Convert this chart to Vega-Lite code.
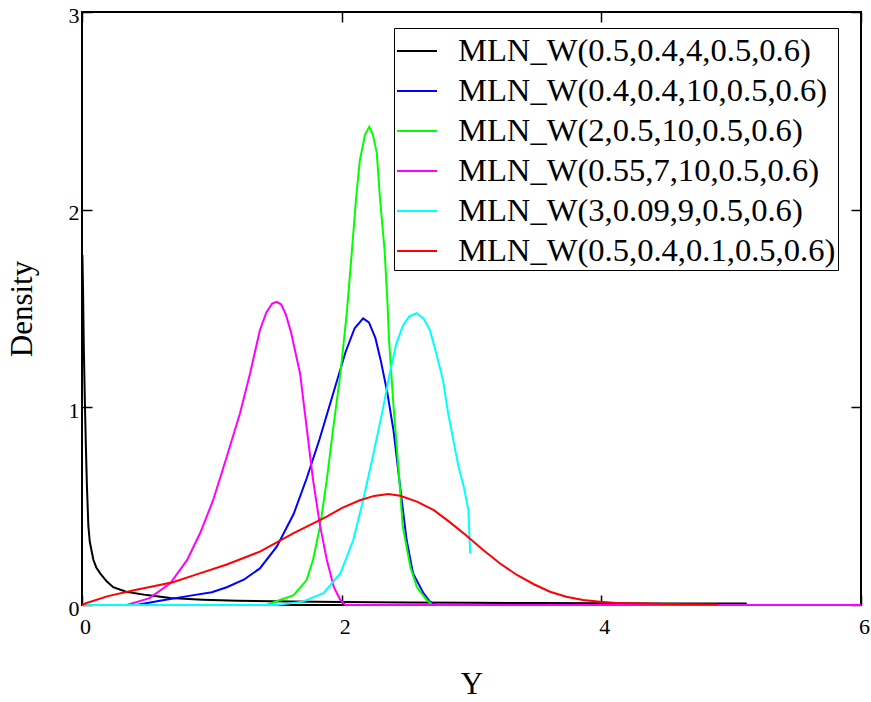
{
  "$schema": "https://vega.github.io/schema/vega-lite/v6.json",
  "width": 779,
  "height": 593,
  "autosize": "none",
  "padding": {"left": 82, "top": 12, "right": 10, "bottom": 97},
  "background": "white",
  "config": {"view": {"stroke": "black", "strokeWidth": 2}, "font": "Liberation Serif"},
  "data": {"values": [
    {"s": "MLN_W(0.5,0.4,4,0.5,0.6)", "x": 0.003, "y": 1.77},
    {"s": "MLN_W(0.5,0.4,4,0.5,0.6)", "x": 0.008, "y": 1.6},
    {"s": "MLN_W(0.5,0.4,4,0.5,0.6)", "x": 0.014, "y": 1.3},
    {"s": "MLN_W(0.5,0.4,4,0.5,0.6)", "x": 0.023, "y": 1.0},
    {"s": "MLN_W(0.5,0.4,4,0.5,0.6)", "x": 0.03, "y": 0.8},
    {"s": "MLN_W(0.5,0.4,4,0.5,0.6)", "x": 0.038, "y": 0.6},
    {"s": "MLN_W(0.5,0.4,4,0.5,0.6)", "x": 0.049, "y": 0.4},
    {"s": "MLN_W(0.5,0.4,4,0.5,0.6)", "x": 0.06, "y": 0.32},
    {"s": "MLN_W(0.5,0.4,4,0.5,0.6)", "x": 0.087, "y": 0.23},
    {"s": "MLN_W(0.5,0.4,4,0.5,0.6)", "x": 0.11, "y": 0.19},
    {"s": "MLN_W(0.5,0.4,4,0.5,0.6)", "x": 0.14, "y": 0.16},
    {"s": "MLN_W(0.5,0.4,4,0.5,0.6)", "x": 0.19, "y": 0.12},
    {"s": "MLN_W(0.5,0.4,4,0.5,0.6)", "x": 0.24, "y": 0.09},
    {"s": "MLN_W(0.5,0.4,4,0.5,0.6)", "x": 0.34, "y": 0.067},
    {"s": "MLN_W(0.5,0.4,4,0.5,0.6)", "x": 0.5, "y": 0.05},
    {"s": "MLN_W(0.5,0.4,4,0.5,0.6)", "x": 0.68, "y": 0.035},
    {"s": "MLN_W(0.5,0.4,4,0.5,0.6)", "x": 0.93, "y": 0.027},
    {"s": "MLN_W(0.5,0.4,4,0.5,0.6)", "x": 1.2, "y": 0.022},
    {"s": "MLN_W(0.5,0.4,4,0.5,0.6)", "x": 1.6, "y": 0.018},
    {"s": "MLN_W(0.5,0.4,4,0.5,0.6)", "x": 2.0, "y": 0.015},
    {"s": "MLN_W(0.5,0.4,4,0.5,0.6)", "x": 2.5, "y": 0.013},
    {"s": "MLN_W(0.5,0.4,4,0.5,0.6)", "x": 3.0, "y": 0.011},
    {"s": "MLN_W(0.5,0.4,4,0.5,0.6)", "x": 3.5, "y": 0.01},
    {"s": "MLN_W(0.5,0.4,4,0.5,0.6)", "x": 4.0, "y": 0.009},
    {"s": "MLN_W(0.5,0.4,4,0.5,0.6)", "x": 4.5, "y": 0.008},
    {"s": "MLN_W(0.5,0.4,4,0.5,0.6)", "x": 5.12, "y": 0.007},

    {"s": "MLN_W(0.4,0.4,10,0.5,0.6)", "x": 0.42, "y": 0.0},
    {"s": "MLN_W(0.4,0.4,10,0.5,0.6)", "x": 0.6, "y": 0.022},
    {"s": "MLN_W(0.4,0.4,10,0.5,0.6)", "x": 0.86, "y": 0.05},
    {"s": "MLN_W(0.4,0.4,10,0.5,0.6)", "x": 1.0, "y": 0.065},
    {"s": "MLN_W(0.4,0.4,10,0.5,0.6)", "x": 1.115, "y": 0.09},
    {"s": "MLN_W(0.4,0.4,10,0.5,0.6)", "x": 1.25, "y": 0.13},
    {"s": "MLN_W(0.4,0.4,10,0.5,0.6)", "x": 1.37, "y": 0.185},
    {"s": "MLN_W(0.4,0.4,10,0.5,0.6)", "x": 1.5, "y": 0.295},
    {"s": "MLN_W(0.4,0.4,10,0.5,0.6)", "x": 1.63, "y": 0.46},
    {"s": "MLN_W(0.4,0.4,10,0.5,0.6)", "x": 1.73, "y": 0.64},
    {"s": "MLN_W(0.4,0.4,10,0.5,0.6)", "x": 1.83, "y": 0.84},
    {"s": "MLN_W(0.4,0.4,10,0.5,0.6)", "x": 1.93, "y": 1.06},
    {"s": "MLN_W(0.4,0.4,10,0.5,0.6)", "x": 2.03, "y": 1.28},
    {"s": "MLN_W(0.4,0.4,10,0.5,0.6)", "x": 2.1, "y": 1.4},
    {"s": "MLN_W(0.4,0.4,10,0.5,0.6)", "x": 2.165, "y": 1.45},
    {"s": "MLN_W(0.4,0.4,10,0.5,0.6)", "x": 2.21, "y": 1.43},
    {"s": "MLN_W(0.4,0.4,10,0.5,0.6)", "x": 2.26, "y": 1.35},
    {"s": "MLN_W(0.4,0.4,10,0.5,0.6)", "x": 2.3, "y": 1.24},
    {"s": "MLN_W(0.4,0.4,10,0.5,0.6)", "x": 2.35, "y": 1.08},
    {"s": "MLN_W(0.4,0.4,10,0.5,0.6)", "x": 2.4, "y": 0.88},
    {"s": "MLN_W(0.4,0.4,10,0.5,0.6)", "x": 2.45, "y": 0.6},
    {"s": "MLN_W(0.4,0.4,10,0.5,0.6)", "x": 2.5, "y": 0.33},
    {"s": "MLN_W(0.4,0.4,10,0.5,0.6)", "x": 2.55, "y": 0.16},
    {"s": "MLN_W(0.4,0.4,10,0.5,0.6)", "x": 2.63, "y": 0.06},
    {"s": "MLN_W(0.4,0.4,10,0.5,0.6)", "x": 2.68, "y": 0.017},
    {"s": "MLN_W(0.4,0.4,10,0.5,0.6)", "x": 2.72, "y": 0.0},

    {"s": "MLN_W(2,0.5,10,0.5,0.6)", "x": 1.42, "y": 0.0},
    {"s": "MLN_W(2,0.5,10,0.5,0.6)", "x": 1.525, "y": 0.025},
    {"s": "MLN_W(2,0.5,10,0.5,0.6)", "x": 1.63, "y": 0.05},
    {"s": "MLN_W(2,0.5,10,0.5,0.6)", "x": 1.73, "y": 0.126},
    {"s": "MLN_W(2,0.5,10,0.5,0.6)", "x": 1.78, "y": 0.23},
    {"s": "MLN_W(2,0.5,10,0.5,0.6)", "x": 1.834, "y": 0.4},
    {"s": "MLN_W(2,0.5,10,0.5,0.6)", "x": 1.885, "y": 0.63},
    {"s": "MLN_W(2,0.5,10,0.5,0.6)", "x": 1.93, "y": 0.87},
    {"s": "MLN_W(2,0.5,10,0.5,0.6)", "x": 1.99, "y": 1.17},
    {"s": "MLN_W(2,0.5,10,0.5,0.6)", "x": 2.04, "y": 1.48},
    {"s": "MLN_W(2,0.5,10,0.5,0.6)", "x": 2.08, "y": 1.8},
    {"s": "MLN_W(2,0.5,10,0.5,0.6)", "x": 2.11, "y": 2.05},
    {"s": "MLN_W(2,0.5,10,0.5,0.6)", "x": 2.14, "y": 2.25},
    {"s": "MLN_W(2,0.5,10,0.5,0.6)", "x": 2.18, "y": 2.38},
    {"s": "MLN_W(2,0.5,10,0.5,0.6)", "x": 2.213, "y": 2.42},
    {"s": "MLN_W(2,0.5,10,0.5,0.6)", "x": 2.24, "y": 2.38},
    {"s": "MLN_W(2,0.5,10,0.5,0.6)", "x": 2.27, "y": 2.29},
    {"s": "MLN_W(2,0.5,10,0.5,0.6)", "x": 2.296, "y": 2.05},
    {"s": "MLN_W(2,0.5,10,0.5,0.6)", "x": 2.33, "y": 1.8},
    {"s": "MLN_W(2,0.5,10,0.5,0.6)", "x": 2.352, "y": 1.54},
    {"s": "MLN_W(2,0.5,10,0.5,0.6)", "x": 2.365, "y": 1.34},
    {"s": "MLN_W(2,0.5,10,0.5,0.6)", "x": 2.4, "y": 1.0},
    {"s": "MLN_W(2,0.5,10,0.5,0.6)", "x": 2.44, "y": 0.67},
    {"s": "MLN_W(2,0.5,10,0.5,0.6)", "x": 2.47, "y": 0.4},
    {"s": "MLN_W(2,0.5,10,0.5,0.6)", "x": 2.53, "y": 0.19},
    {"s": "MLN_W(2,0.5,10,0.5,0.6)", "x": 2.58, "y": 0.09},
    {"s": "MLN_W(2,0.5,10,0.5,0.6)", "x": 2.655, "y": 0.025},
    {"s": "MLN_W(2,0.5,10,0.5,0.6)", "x": 2.7, "y": 0.0},

    {"s": "MLN_W(0.55,7,10,0.5,0.6)", "x": 0.345, "y": 0.0},
    {"s": "MLN_W(0.55,7,10,0.5,0.6)", "x": 0.52, "y": 0.035},
    {"s": "MLN_W(0.55,7,10,0.5,0.6)", "x": 0.68, "y": 0.11},
    {"s": "MLN_W(0.55,7,10,0.5,0.6)", "x": 0.81, "y": 0.228},
    {"s": "MLN_W(0.55,7,10,0.5,0.6)", "x": 0.91, "y": 0.364},
    {"s": "MLN_W(0.55,7,10,0.5,0.6)", "x": 1.01, "y": 0.53},
    {"s": "MLN_W(0.55,7,10,0.5,0.6)", "x": 1.115, "y": 0.75},
    {"s": "MLN_W(0.55,7,10,0.5,0.6)", "x": 1.217, "y": 0.97},
    {"s": "MLN_W(0.55,7,10,0.5,0.6)", "x": 1.294, "y": 1.17},
    {"s": "MLN_W(0.55,7,10,0.5,0.6)", "x": 1.37, "y": 1.39},
    {"s": "MLN_W(0.55,7,10,0.5,0.6)", "x": 1.42, "y": 1.48},
    {"s": "MLN_W(0.55,7,10,0.5,0.6)", "x": 1.465, "y": 1.525},
    {"s": "MLN_W(0.55,7,10,0.5,0.6)", "x": 1.5, "y": 1.534},
    {"s": "MLN_W(0.55,7,10,0.5,0.6)", "x": 1.535, "y": 1.52},
    {"s": "MLN_W(0.55,7,10,0.5,0.6)", "x": 1.57, "y": 1.47},
    {"s": "MLN_W(0.55,7,10,0.5,0.6)", "x": 1.61, "y": 1.38},
    {"s": "MLN_W(0.55,7,10,0.5,0.6)", "x": 1.68, "y": 1.17},
    {"s": "MLN_W(0.55,7,10,0.5,0.6)", "x": 1.73, "y": 0.9},
    {"s": "MLN_W(0.55,7,10,0.5,0.6)", "x": 1.78, "y": 0.63},
    {"s": "MLN_W(0.55,7,10,0.5,0.6)", "x": 1.834, "y": 0.4},
    {"s": "MLN_W(0.55,7,10,0.5,0.6)", "x": 1.885, "y": 0.23},
    {"s": "MLN_W(0.55,7,10,0.5,0.6)", "x": 1.94, "y": 0.09},
    {"s": "MLN_W(0.55,7,10,0.5,0.6)", "x": 1.99, "y": 0.025},
    {"s": "MLN_W(0.55,7,10,0.5,0.6)", "x": 2.03, "y": 0.0},
    {"s": "MLN_W(0.55,7,10,0.5,0.6)", "x": 6.0, "y": 0.0},

    {"s": "MLN_W(3,0.09,9,0.5,0.6)", "x": 0.0, "y": 0.0},
    {"s": "MLN_W(3,0.09,9,0.5,0.6)", "x": 1.5, "y": 0.0},
    {"s": "MLN_W(3,0.09,9,0.5,0.6)", "x": 1.7, "y": 0.017},
    {"s": "MLN_W(3,0.09,9,0.5,0.6)", "x": 1.86, "y": 0.06},
    {"s": "MLN_W(3,0.09,9,0.5,0.6)", "x": 1.99, "y": 0.16},
    {"s": "MLN_W(3,0.09,9,0.5,0.6)", "x": 2.09, "y": 0.33},
    {"s": "MLN_W(3,0.09,9,0.5,0.6)", "x": 2.165, "y": 0.53},
    {"s": "MLN_W(3,0.09,9,0.5,0.6)", "x": 2.24, "y": 0.75},
    {"s": "MLN_W(3,0.09,9,0.5,0.6)", "x": 2.32, "y": 1.0},
    {"s": "MLN_W(3,0.09,9,0.5,0.6)", "x": 2.37, "y": 1.17},
    {"s": "MLN_W(3,0.09,9,0.5,0.6)", "x": 2.42, "y": 1.32},
    {"s": "MLN_W(3,0.09,9,0.5,0.6)", "x": 2.47, "y": 1.41},
    {"s": "MLN_W(3,0.09,9,0.5,0.6)", "x": 2.52, "y": 1.46},
    {"s": "MLN_W(3,0.09,9,0.5,0.6)", "x": 2.578, "y": 1.476},
    {"s": "MLN_W(3,0.09,9,0.5,0.6)", "x": 2.63, "y": 1.45},
    {"s": "MLN_W(3,0.09,9,0.5,0.6)", "x": 2.68, "y": 1.39},
    {"s": "MLN_W(3,0.09,9,0.5,0.6)", "x": 2.73, "y": 1.27},
    {"s": "MLN_W(3,0.09,9,0.5,0.6)", "x": 2.78, "y": 1.14},
    {"s": "MLN_W(3,0.09,9,0.5,0.6)", "x": 2.82, "y": 0.97},
    {"s": "MLN_W(3,0.09,9,0.5,0.6)", "x": 2.86, "y": 0.835},
    {"s": "MLN_W(3,0.09,9,0.5,0.6)", "x": 2.9, "y": 0.7},
    {"s": "MLN_W(3,0.09,9,0.5,0.6)", "x": 2.94, "y": 0.6},
    {"s": "MLN_W(3,0.09,9,0.5,0.6)", "x": 2.976, "y": 0.48},
    {"s": "MLN_W(3,0.09,9,0.5,0.6)", "x": 2.99, "y": 0.26},

    {"s": "MLN_W(0.5,0.4,0.1,0.5,0.6)", "x": 0.0, "y": 0.0},
    {"s": "MLN_W(0.5,0.4,0.1,0.5,0.6)", "x": 0.036, "y": 0.01},
    {"s": "MLN_W(0.5,0.4,0.1,0.5,0.6)", "x": 0.2, "y": 0.045},
    {"s": "MLN_W(0.5,0.4,0.1,0.5,0.6)", "x": 0.4, "y": 0.075},
    {"s": "MLN_W(0.5,0.4,0.1,0.5,0.6)", "x": 0.7, "y": 0.115},
    {"s": "MLN_W(0.5,0.4,0.1,0.5,0.6)", "x": 0.86, "y": 0.15},
    {"s": "MLN_W(0.5,0.4,0.1,0.5,0.6)", "x": 1.115, "y": 0.205},
    {"s": "MLN_W(0.5,0.4,0.1,0.5,0.6)", "x": 1.37, "y": 0.27},
    {"s": "MLN_W(0.5,0.4,0.1,0.5,0.6)", "x": 1.63, "y": 0.364},
    {"s": "MLN_W(0.5,0.4,0.1,0.5,0.6)", "x": 1.885, "y": 0.447},
    {"s": "MLN_W(0.5,0.4,0.1,0.5,0.6)", "x": 2.0, "y": 0.49},
    {"s": "MLN_W(0.5,0.4,0.1,0.5,0.6)", "x": 2.14, "y": 0.53},
    {"s": "MLN_W(0.5,0.4,0.1,0.5,0.6)", "x": 2.25, "y": 0.552},
    {"s": "MLN_W(0.5,0.4,0.1,0.5,0.6)", "x": 2.36, "y": 0.561},
    {"s": "MLN_W(0.5,0.4,0.1,0.5,0.6)", "x": 2.45, "y": 0.553},
    {"s": "MLN_W(0.5,0.4,0.1,0.5,0.6)", "x": 2.58, "y": 0.523},
    {"s": "MLN_W(0.5,0.4,0.1,0.5,0.6)", "x": 2.71, "y": 0.48},
    {"s": "MLN_W(0.5,0.4,0.1,0.5,0.6)", "x": 2.835, "y": 0.418},
    {"s": "MLN_W(0.5,0.4,0.1,0.5,0.6)", "x": 2.96, "y": 0.352},
    {"s": "MLN_W(0.5,0.4,0.1,0.5,0.6)", "x": 3.09, "y": 0.278},
    {"s": "MLN_W(0.5,0.4,0.1,0.5,0.6)", "x": 3.22, "y": 0.21},
    {"s": "MLN_W(0.5,0.4,0.1,0.5,0.6)", "x": 3.35, "y": 0.152},
    {"s": "MLN_W(0.5,0.4,0.1,0.5,0.6)", "x": 3.48, "y": 0.105},
    {"s": "MLN_W(0.5,0.4,0.1,0.5,0.6)", "x": 3.605, "y": 0.067},
    {"s": "MLN_W(0.5,0.4,0.1,0.5,0.6)", "x": 3.73, "y": 0.042},
    {"s": "MLN_W(0.5,0.4,0.1,0.5,0.6)", "x": 3.86, "y": 0.025},
    {"s": "MLN_W(0.5,0.4,0.1,0.5,0.6)", "x": 3.99, "y": 0.017},
    {"s": "MLN_W(0.5,0.4,0.1,0.5,0.6)", "x": 4.12, "y": 0.01},
    {"s": "MLN_W(0.5,0.4,0.1,0.5,0.6)", "x": 4.5, "y": 0.005},
    {"s": "MLN_W(0.5,0.4,0.1,0.5,0.6)", "x": 4.9, "y": 0.003}
  ]},
  "layer": [
    {
      "mark": {"type": "line", "strokeWidth": 2},
      "encoding": {
        "x": {"field": "x", "type": "quantitative",
          "scale": {"domain": [0, 6], "nice": false, "zero": false},
          "axis": {"orient": "bottom", "offset": -10, "tickSize": 10, "tickColor": "black", "tickWidth": 1.5,
            "domain": false, "grid": false, "values": [0, 2, 4, 6], "labelFlush": false, "labelOverlap": false,
            "labelFont": "Liberation Serif", "labelFontSize": 22, "labelColor": "black", "labelPadding": 11, "labelOffset": 3,
            "title": "Y", "titleFont": "Liberation Serif", "titleFontSize": 31, "titleFontWeight": "normal", "titleColor": "black", "titlePadding": 32}},
        "y": {"field": "y", "type": "quantitative",
          "scale": {"domain": [0, 3], "nice": false, "zero": false},
          "axis": {"orient": "left", "offset": -10, "tickSize": 10, "tickColor": "black", "tickWidth": 1.5,
            "domain": false, "grid": false, "values": [0, 1, 2, 3], "labelFlush": false, "labelOverlap": false,
            "labelFont": "Liberation Serif", "labelFontSize": 22, "labelColor": "black", "labelPadding": 3, "labelOffset": 3,
            "title": "Density", "titleFont": "Liberation Serif", "titleFontSize": 31, "titleFontWeight": "normal", "titleColor": "black", "titlePadding": 30}},
        "color": {"field": "s", "type": "nominal",
          "scale": {"domain": ["MLN_W(0.5,0.4,4,0.5,0.6)", "MLN_W(0.4,0.4,10,0.5,0.6)", "MLN_W(2,0.5,10,0.5,0.6)", "MLN_W(0.55,7,10,0.5,0.6)", "MLN_W(3,0.09,9,0.5,0.6)", "MLN_W(0.5,0.4,0.1,0.5,0.6)"],
            "range": ["#000000", "#0000ff", "#00ff00", "#ff00ff", "#00ffff", "#ff0000"]},
          "legend": {"orient": "none", "legendX": 312, "legendY": 16, "title": null,
            "symbolType": "stroke", "symbolSize": 1600, "symbolStrokeWidth": 2,
            "labelFont": "Liberation Serif", "labelFontSize": 32.6, "labelColor": "black", "labelOffset": 20, "labelLimit": 600,
            "strokeColor": "black", "fillColor": "white", "padding": 2, "rowPadding": 2}}
      }
    },
    {
      "mark": {"type": "point", "opacity": 0},
      "encoding": {
        "x": {"field": "x", "type": "quantitative",
          "scale": {"domain": [0, 6], "nice": false, "zero": false},
          "axis": {"orient": "top", "offset": -10, "tickSize": 10, "tickColor": "black", "tickWidth": 1.5,
            "domain": false, "grid": false, "labels": false, "values": [0, 2, 4, 6], "title": null}},
        "y": {"field": "y", "type": "quantitative",
          "scale": {"domain": [0, 3], "nice": false, "zero": false},
          "axis": {"orient": "right", "offset": -10, "tickSize": 10, "tickColor": "black", "tickWidth": 1.5,
            "domain": false, "grid": false, "labels": false, "values": [0, 1, 2, 3], "title": null}}
      }
    }
  ],
  "resolve": {"scale": {"x": "independent", "y": "independent"}}
}
